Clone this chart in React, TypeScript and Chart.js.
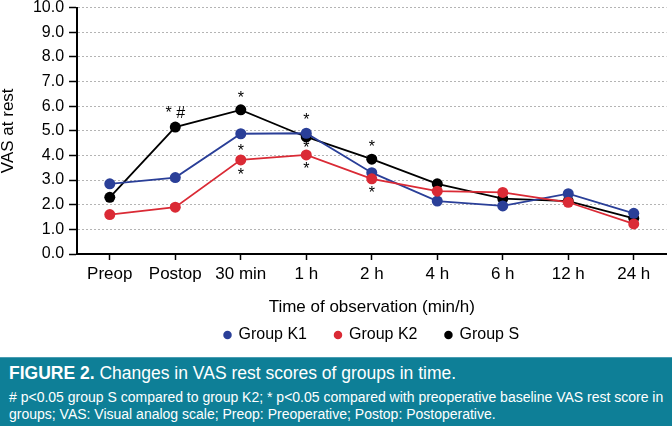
import React, { useEffect, useRef } from 'react';
import { Chart, registerables } from 'chart.js';

Chart.register(...registerables);

const categories = ['Preop', 'Postop', '30 min', '1 h', '2 h', '4 h', '6 h', '12 h', '24 h'];
const groupK1 = [2.85, 3.1, 4.88, 4.9, 3.3, 2.15, 1.95, 2.45, 1.65];
const groupK2 = [1.6, 1.9, 3.82, 4.02, 3.05, 2.55, 2.5, 2.1, 1.22];
const groupS = [2.3, 5.15, 5.85, 4.75, 3.85, 2.85, 2.25, 2.15, 1.45];
const yTickLabels = ['0.0', '1.0', '2.0', '3.0', '4.0', '5.0', '6.0', '7.0', '8.0', '9.0', '10.0'];

// significance marks: category index, vertical value, text
const markIndex = [1, 2, 2, 2, 3, 3, 3, 4, 4];
const markValue = [5.9, 6.5, 4.35, 3.35, 5.6, 4.45, 3.6, 4.5, 2.62];
const markText = ['* #', '*', '*', '*', '*', '*', '*', '*', '*'];

const FONT = "'Liberation Sans', Arial, Helvetica, sans-serif";
const BLUE = '#2a3f98';
const RED = '#da2a35';
const BLACK = '#000000';

const marksPlugin = {
  id: 'sigMarks',
  afterDatasetsDraw(chart: any) {
    const { ctx, scales } = chart;
    ctx.save();
    ctx.fillStyle = '#000';
    ctx.font = `16px ${FONT}`;
    ctx.textAlign = 'center';
    ctx.textBaseline = 'alphabetic';
    markText.forEach((t, i) => {
      const x = scales.x.getPixelForValue(markIndex[i]);
      const y = scales.y.getPixelForValue(markValue[i]);
      ctx.fillText(t, x, y + 9);
    });
    ctx.restore();
  },
};

export default function App() {
  const ref = useRef<HTMLCanvasElement | null>(null);

  useEffect(() => {
    const prevMargin = document.body.style.margin;
    document.body.style.margin = '0';
    if (!ref.current) return;
    const ds = (label: string, data: number[], color: string, order: number) => ({
      label,
      data,
      borderColor: color,
      backgroundColor: color,
      pointBackgroundColor: color,
      pointBorderColor: color,
      pointBorderWidth: 0,
      pointRadius: 5.5,
      borderWidth: 1.8,
      tension: 0,
      order,
    });
    const chart = new Chart(ref.current, {
      type: 'line',
      data: {
        labels: categories,
        datasets: [
          ds('Group K1', groupK1, BLUE, 1),
          ds('Group K2', groupK2, RED, 0),
          ds('Group S', groupS, BLACK, 2),
        ],
      },
      options: {
        animation: false,
        responsive: false,
        maintainAspectRatio: false,
        devicePixelRatio: 1,
        layout: { padding: { left: 0, right: 0, top: 0, bottom: 5 } },
        plugins: {
          tooltip: { enabled: false },
          legend: {
            position: 'bottom',
            fullSize: false,
            labels: {
              usePointStyle: true,
              pointStyle: 'circle',
              boxWidth: 6,
              boxHeight: 6,
              padding: 28,
              color: '#000',
              font: { family: FONT, size: 16 },
              sort: (a: any, b: any) => a.datasetIndex - b.datasetIndex,
            },
          },
        },
        scales: {
          x: {
            type: 'category',
            offset: true,
            grid: {
              drawOnChartArea: false,
              drawTicks: true,
              tickLength: 6,
              tickColor: '#000',
              tickWidth: 1.5,
              offset: false,
            },
            border: { display: true, color: '#000', width: 2 },
            ticks: {
              color: '#000',
              padding: 4,
              maxRotation: 0,
              autoSkip: false,
              font: { family: FONT, size: 17 },
            },
            title: {
              display: true,
              text: 'Time of observation (min/h)',
              color: '#000',
              font: { family: FONT, size: 17 },
              padding: { top: 8.4, bottom: -18.2 },
            },
          },
          y: {
            min: 0,
            max: 10,
            grid: {
              color: '#b4b4b4',
              lineWidth: 1,
              drawTicks: true,
              tickLength: 8,
              tickColor: '#000',
              tickWidth: 1.5,
              tickBorderDash: [],
            },
            border: { display: true, color: '#000', width: 2, dash: [2, 2] },
            ticks: {
              stepSize: 1,
              color: '#000',
              padding: 5,
              font: { family: FONT, size: 16 },
              callback: (_v: any, i: number) => yTickLabels[i],
            },
            title: {
              display: true,
              text: 'VAS at rest',
              color: '#000',
              font: { family: FONT, size: 17 },
              padding: { top: -2, bottom: 9.5 },
            },
          },
        },
      },
      plugins: [marksPlugin],
    });
    return () => {
      chart.destroy();
      document.body.style.margin = prevMargin;
    };
  }, []);

  return (
    <div style={{ position: 'fixed', left: 0, top: 0, width: 672, height: 426, background: '#fff', overflow: 'hidden' }}>
      <div style={{ position: 'absolute', left: 0, top: -7, width: 672, height: 365 }}>
        <canvas ref={ref} width={672} height={365} style={{ width: 672, height: 365, display: 'block' }} />
      </div>
      <div
        style={{
          position: 'absolute',
          left: 0,
          top: 357,
          width: 672,
          height: 69,
          boxSizing: 'border-box',
          background: '#0e7f97',
          borderTop: '1px solid #4a9db2',
          color: '#fff',
          fontFamily: FONT,
          padding: '5px 4px 0 9px',
        }}
      >
        <div style={{ fontSize: 17.5, lineHeight: '20px', whiteSpace: 'nowrap' }}>
          <b>FIGURE 2.</b> Changes in VAS rest scores of groups in time.
        </div>
        <div style={{ fontSize: 14, lineHeight: '16.5px', marginTop: 6 }}>
          # p&lt;0.05 group S compared to group K2; * p&lt;0.05 compared with preoperative baseline VAS rest score in groups; VAS: Visual analog scale; Preop: Preoperative; Postop: Postoperative.
        </div>
      </div>
    </div>
  );
}
